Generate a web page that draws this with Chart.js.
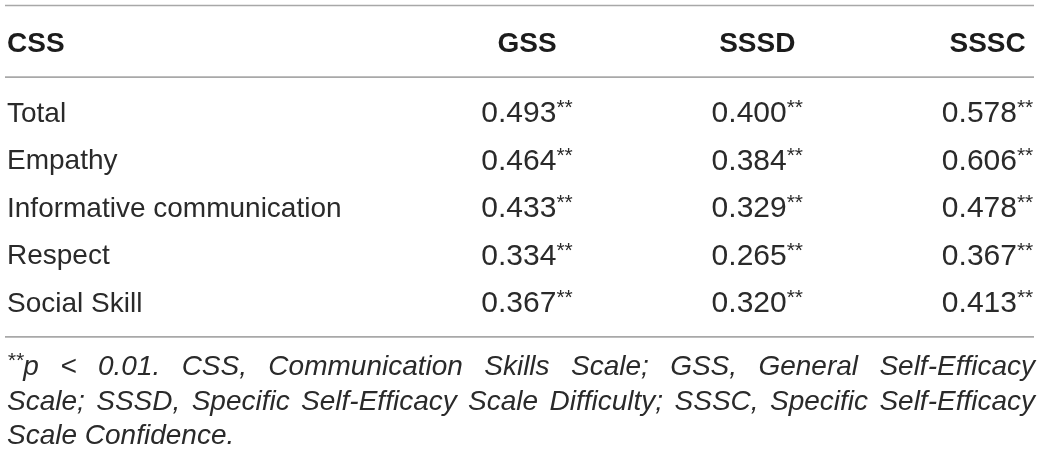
<!DOCTYPE html>
<html>
<head>
<meta charset="utf-8">
<script src="https://cdn.jsdelivr.net/npm/chart.js@4.4.1/dist/chart.umd.min.js"></script>
<style>
  html, body { margin: 0; padding: 0; background: #ffffff; }
  #wrap { position: relative; width: 1041px; height: 455px; }
</style>
</head>
<body>
<div id="wrap"><canvas id="c"></canvas></div>
<script>
// ---- data ----
const rowHeader = "CSS";
const columns = ["GSS", "SSSD", "SSSC"];
const rows = ["Total", "Empathy", "Informative communication", "Respect", "Social Skill"];
const gss  = [0.493, 0.464, 0.433, 0.334, 0.367];
const sssd = [0.400, 0.384, 0.329, 0.265, 0.320];
const sssc = [0.578, 0.606, 0.478, 0.367, 0.413];
const sigMark = "**";
const footnoteLines = [
  ["**p", "<", "0.01.", "CSS,", "Communication", "Skills", "Scale;", "GSS,", "General", "Self-Efficacy"],
  ["Scale;", "SSSD,", "Specific", "Self-Efficacy", "Scale", "Difficulty;", "SSSC,", "Specific", "Self-Efficacy"],
  ["Scale", "Confidence."]
];

// ---- styles ----
const FONT = '"Liberation Sans", Arial, Helvetica, sans-serif';
const style = {
  labelSize: 28, valueSize: 30, headSize: 28, supSize: 21, supRaise: 8,
  footSize: 28, footSupSize: 21, footSupRaise: 8,
  textColor: '#2a2a2a', headColor: '#1c1c1c', ruleColor: '#a8a8a8', ruleWidth: 1.6,
  leftX: 7, rightX: 1034,
  // vertical positions in row units of the y scale
  ruleTopRow: -2.236, headerRow: -1.474, ruleMidRow: -0.73, ruleBottomRow: 4.74,
  footBaselineRows: [5.55, 6.27, 6.985]
};

const seriesValues = [gss, sssd, sssc];
const datasets = columns.map((name, ci) => ({
  label: name,
  data: rows.map((r, ri) => ({ x: ci + 1, y: r, v: seriesValues[ci][ri] })),
  pointRadius: 0, pointHoverRadius: 0, showLine: false
}));

function capMid(size) { return size * 0.358; }

const tablePlugin = {
  id: 'tableText',
  afterDatasetsDraw(chart) {
    const ctx = chart.ctx;
    const xs = chart.scales.x, ys = chart.scales.y;
    ctx.save();
    ctx.textBaseline = 'alphabetic';

    // rules
    ctx.strokeStyle = style.ruleColor;
    ctx.lineWidth = style.ruleWidth;
    [style.ruleTopRow, style.ruleMidRow, style.ruleBottomRow].forEach(r => {
      const y = ys.getPixelForValue(r);
      ctx.beginPath();
      ctx.moveTo(style.leftX - 2, y);
      ctx.lineTo(style.rightX, y);
      ctx.stroke();
    });

    // header
    const hy = ys.getPixelForValue(style.headerRow) + capMid(style.headSize);
    ctx.fillStyle = style.headColor;
    ctx.font = 'bold ' + style.headSize + 'px ' + FONT;
    ctx.textAlign = 'left';
    ctx.fillText(rowHeader, style.leftX, hy);
    ctx.textAlign = 'center';
    columns.forEach((c, ci) => {
      ctx.fillText(c, xs.getPixelForValue(ci + 1), hy);
    });

    // row labels
    ctx.fillStyle = style.textColor;
    ctx.font = style.labelSize + 'px ' + FONT;
    ctx.textAlign = 'left';
    rows.forEach((r, ri) => {
      ctx.fillText(r, style.leftX, ys.getPixelForValue(ri) + capMid(style.labelSize));
    });

    // value cells
    chart.data.datasets.forEach((ds, di) => {
      const meta = chart.getDatasetMeta(di);
      meta.data.forEach((el, i) => {
        const txt = ds.data[i].v.toFixed(3);
        ctx.font = style.valueSize + 'px ' + FONT;
        const w1 = ctx.measureText(txt).width;
        ctx.font = style.supSize + 'px ' + FONT;
        const w2 = ctx.measureText(sigMark).width;
        const x0 = el.x - (w1 + w2) / 2;
        const by = el.y + capMid(style.valueSize);
        ctx.textAlign = 'left';
        ctx.font = style.valueSize + 'px ' + FONT;
        ctx.fillText(txt, x0, by);
        ctx.font = style.supSize + 'px ' + FONT;
        ctx.fillText(sigMark, x0 + w1, by - style.supRaise);
      });
    });

    // footnote (justified)
    const mainF = 'italic ' + style.footSize + 'px ' + FONT;
    const supF = 'italic ' + style.footSupSize + 'px ' + FONT;
    function segs(word) {
      if (word.startsWith(sigMark)) return [{ t: sigMark, sup: true }, { t: word.slice(sigMark.length), sup: false }];
      return [{ t: word, sup: false }];
    }
    function wordWidth(word) {
      let w = 0;
      segs(word).forEach(s => { ctx.font = s.sup ? supF : mainF; w += ctx.measureText(s.t).width; });
      return w;
    }
    footnoteLines.forEach((line, li) => {
      const by = ys.getPixelForValue(style.footBaselineRows[li]);
      const widths = line.map(wordWidth);
      const total = widths.reduce((a, b) => a + b, 0);
      ctx.font = mainF;
      const spaceW = ctx.measureText(' ').width;
      const justify = li < footnoteLines.length - 1;
      const gap = justify ? (style.rightX + 1 - style.leftX - total) / (line.length - 1) : spaceW;
      let x = style.leftX;
      line.forEach((word) => {
        segs(word).forEach(s => {
          ctx.font = s.sup ? supF : mainF;
          ctx.fillText(s.t, x, s.sup ? by - style.footSupRaise : by);
          x += ctx.measureText(s.t).width;
        });
        x += gap;
      });
    });
    ctx.restore();
  }
};

new Chart(document.getElementById('c'), {
  type: 'scatter',
  data: { datasets },
  options: {
    responsive: true,
    maintainAspectRatio: false,
    animation: false,
    events: [],
    layout: { padding: { top: 88, bottom: 129.5, left: 0, right: 0 } },
    scales: {
      x: { type: 'linear', min: -1.289, max: 3.232, display: false },
      y: { type: 'category', labels: rows, offset: true, display: false }
    },
    plugins: { legend: { display: false }, tooltip: { enabled: false }, title: { display: false } }
  },
  plugins: [tablePlugin]
});
</script>
</body>
</html>
